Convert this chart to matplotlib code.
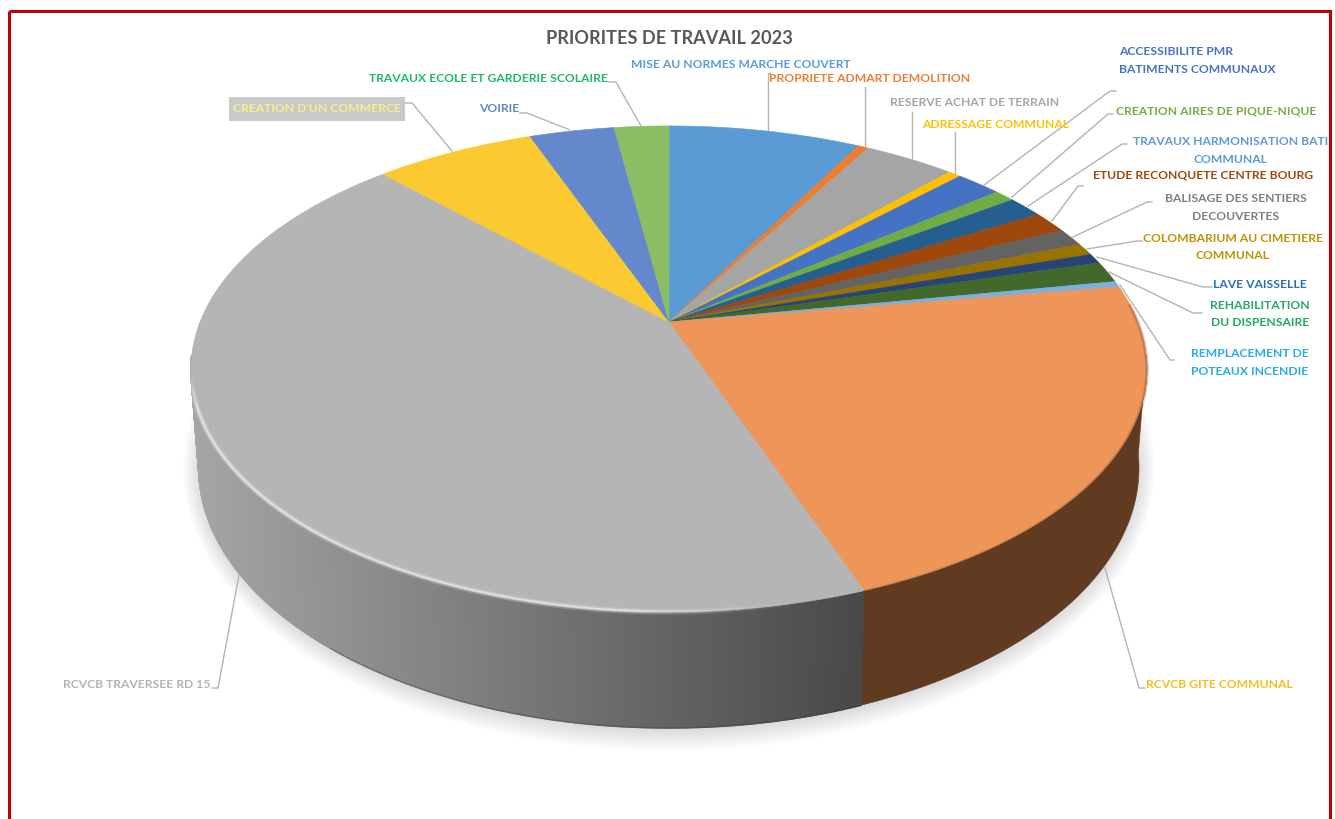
import numpy as np
import matplotlib
matplotlib.use('Agg')
import matplotlib.pyplot as plt
from matplotlib.collections import PolyCollection, LineCollection
from matplotlib.patches import Ellipse, Rectangle

plt.rcParams['font.family'] = ['Lato', 'DejaVu Sans']

# parts of the pie in %, clockwise from 12 o'clock
labels = ['MISE AU NORMES MARCHE COUVERT', 'PROPRIETE ADMART DEMOLITION', 'RESERVE ACHAT DE TERRAIN',
          'ADRESSAGE COMMUNAL', 'ACCESSIBILITE PMR\nBATIMENTS COMMUNAUX', 'CREATION AIRES DE PIQUE-NIQUE',
          'TRAVAUX HARMONISATION BATI\nCOMMUNAL', 'ETUDE RECONQUETE CENTRE BOURG',
          'BALISAGE DES SENTIERS\nDECOUVERTES', 'COLOMBARIUM AU CIMETIERE\nCOMMUNAL', 'LAVE VAISSELLE',
          'REHABILITATION\nDU DISPENSAIRE', 'REMPLACEMENT DE\nPOTEAUX INCENDIE', 'RCVCB GITE COMMUNAL',
          'RCVCB TRAVERSEE RD 15', "CREATION D'UN COMMERCE", 'VOIRIE', 'TRAVAUX ECOLE ET GARDERIE SCOLAIRE']
values = [7.83, 0.43, 3.68, 0.52, 1.85, 0.83, 1.44, 1.47, 1.19, 0.81, 0.67, 1.42, 0.39,
          21.94, 43.31, 6.53, 3.46, 2.24]

slice_colors = ['#5b9bd5', '#ed7d31', '#a5a5a5', '#ffc000', '#4472c4', '#70ad47', '#255e91', '#9e480e',
                '#636363', '#997300', '#264478', '#43682b', '#7cafdd', '#ee9559', '#b5b5b5', '#fbca30',
                '#6588cc', '#8bbd64']
text_colors = ['#5b9bd5', '#ed7d31', '#a5a5a5', '#ffc000', '#4472c4', '#70ad47', '#5b9bd5', '#9e480e',
               '#7f7f7f', '#bf9000', '#2a6fb0', '#22a860', '#29abe2', '#f7bd1e', '#b4b4b4', '#f5f08a',
               '#5f87c8', '#1fb865']

# text position (x, y in pixels), alignment
text_pos = [(741, 64, 'center'), (870, 78, 'center'), (975, 103, 'center'), (996, 125, 'center'),
            (1119, 60.5, 'left'), (1216, 111, 'center'), (1231, 150.5, 'center'), (1203, 175, 'center'),
            (1236, 207.5, 'center'), (1233, 247, 'center'), (1260, 284, 'center'), (1260, 314, 'center'),
            (1250, 362.5, 'center'), (1219, 684, 'center'), (137, 684, 'center'), (317, 109, 'center'),
            (499, 109, 'center'), (488, 79, 'center')]

# leader lines
leaders = [[(767.5, 130), (767.5, 73), (770, 73)], [(865, 146), (865, 87)], [(912, 158), (912, 112)],
           [(955, 174), (955, 132)], [(984, 185), (1110, 91), (1116, 91)], [(1012, 197), (1108, 114), (1113, 114)],
           [(1028, 206), (1122, 144), (1127, 144)], [(1052, 221), (1078, 186), (1083, 186)],
           [(1073, 237), (1147, 202), (1152, 202)], [(1087, 249), (1137, 241), (1142, 241)],
           [(1097, 257), (1203, 287), (1212, 287)], [(1109, 272), (1193, 313), (1202, 313)],
           [(1120, 285), (1170, 360), (1174, 360)], [(1105, 568), (1139, 688), (1145, 688)],
           [(239, 575), (218, 688), (212, 688)], [(452, 151), (412, 103), (405, 103)],
           [(570, 130), (527, 113), (520, 113)], [(641, 126), (616, 82), (609, 82)]]

# perspective of the disc
APEX_X, APEX_Y = 669, 322
K, A, B = 0.193, 469, 233.9
TOP_CY, TOP_RX, TOP_RY = 368, 478, 243
BOT_CY, BOT_RX, BOT_RY = 467, 470, 260
FONT = 8.7


def project(theta):
    # theta in radians, clockwise from the back of the disc
    x, y = np.sin(theta), np.cos(theta)
    w = 1 + K * y
    return APEX_X + A * x / w, APEX_Y - B * y / w


def project_bottom(theta):
    px, py = project(theta)
    c = (px - APEX_X) / TOP_RX
    s = (py - TOP_CY) / TOP_RY
    return APEX_X + BOT_RX * c, BOT_CY + BOT_RY * s


fig = plt.figure(figsize=(13.35, 8.19), dpi=100, facecolor='white')
ax = fig.add_axes([0, 0, 1, 1])
ax.set_xlim(0, 1335)
ax.set_ylim(819, 0)
ax.axis('off')

# frame
ax.add_patch(Rectangle((9, 11), 1321, 830, fill=False, edgecolor='#c00000', linewidth=2.2, zorder=1))

# soft shadow under the pie
for i in range(14):
    ax.add_patch(Ellipse((APEX_X, BOT_CY + 2), 2 * (BOT_RX + 16 - 1.5 * i), 2 * (BOT_RY + 22 - 1.9 * i),
                         facecolor='#000000', edgecolor='none', alpha=0.011, zorder=2))

edges = np.radians(np.concatenate([[0], np.cumsum(values)]) * 3.6)

# side wall, only the big slices at the front can be seen
for i in (13, 14):
    th = np.arange(edges[i], edges[i + 1] + 0.004, 0.004)
    tx, ty = project(th)
    th = th[ty > 355]
    tx, ty = project(th)
    bx, by = project_bottom(th)
    if i == 13:
        ax.fill(np.r_[tx, bx[::-1]], np.r_[ty, by[::-1]], facecolor='#613a22', edgecolor='#613a22',
                linewidth=0.4, zorder=3)
        continue
    quads = []
    cols = []
    for j in range(len(th) - 1):
        quads.append([(tx[j], ty[j]), (tx[j + 1], ty[j + 1]), (bx[j + 1], by[j + 1]), (bx[j], by[j])])
        g = (165 - 92 * (tx[j] - 191) / 669) / 255
        cols.append((g, g, g))
    ax.add_collection(PolyCollection(quads, facecolors=cols, edgecolors=cols, linewidths=1.2, zorder=3))
    # thin dark line at the foot of the wall
    foot = bx > 330
    ax.plot(bx[foot], by[foot], color='#333333', linewidth=1.0, alpha=0.3, zorder=3)

# top of the pie
for i in range(len(values)):
    th = np.linspace(edges[i], edges[i + 1], max(4, int((edges[i + 1] - edges[i]) * 150)))
    px, py = project(th)
    ax.fill(np.r_[APEX_X, px], np.r_[APEX_Y, py], facecolor=slice_colors[i], edgecolor=slice_colors[i],
            linewidth=0.4, zorder=4)

# bevel on the rim of the grey slice
th = np.arange(edges[14], edges[15], 0.006)
px, py = project(th)
pts = np.column_stack([px, py])
segs = np.stack([pts[:-1], pts[1:]], axis=1)
fade = np.clip((800 - px[:-1]) / 170, 0, 1) * np.clip((py[:-1] - 372) / 40, 0, 1)
for lw, al in ((4.0, 0.22), (1.8, 0.5)):
    rgba = np.ones((len(segs), 4))
    rgba[:, 3] = al * fade
    ax.add_collection(LineCollection(segs, colors=rgba, linewidths=lw, zorder=5))

# darker soft edge on the orange one
th = np.arange(edges[13] + 0.08, edges[14], 0.006)
px, py = project(th)
ax.plot(px, py + 1, color='#613a22', linewidth=2.5, alpha=0.25, zorder=5)

# leader lines and texts
for pts in leaders:
    ax.plot([p[0] for p in pts], [p[1] for p in pts], color='#b4b4b4', linewidth=1.0, zorder=6)

ax.add_patch(Rectangle((229, 97), 176, 24, facecolor='#c9c9c9', edgecolor='none', zorder=6))

for name, col, pos in zip(labels, text_colors, text_pos):
    ax.text(pos[0], pos[1], name, color=col, ha=pos[2], va='center', fontsize=FONT, fontweight='bold',
            linespacing=1.72, multialignment=pos[2], zorder=7)

ax.text(669, 38.5, 'PRIORITES DE TRAVAIL 2023', color='#595959', ha='center', va='center', fontsize=13.1,
        fontweight='bold', zorder=7)

fig.savefig('out.png', dpi=100)
